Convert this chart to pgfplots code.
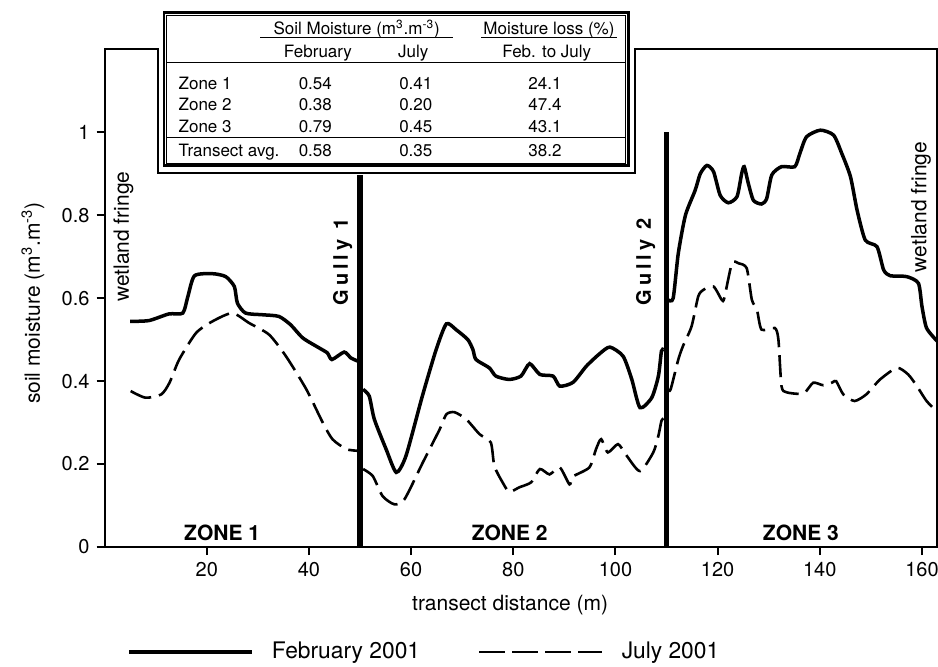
\documentclass[border=0pt]{standalone}
\usepackage{fontspec}
\setmainfont{TeX Gyre Heros}
\usepackage{pgfplots}
\usepackage{pgfplotstable}
\pgfplotsset{compat=1.18}

\pgfplotstableread{
x y
5.0 0.544
8.7 0.546
12.6 0.562
15.3 0.564
16.3 0.604
17.6 0.654
21.1 0.659
23.7 0.652
25.4 0.628
26.0 0.588
27.6 0.564
30.9 0.560
34.1 0.556
36.4 0.536
38.8 0.504
42.0 0.480
43.6 0.468
44.5 0.452
46.9 0.470
48.2 0.456
49.6 0.448
}\febA
\pgfplotstableread{
x y
5.1 0.376
8.0 0.360
11.1 0.368
12.7 0.396
14.6 0.452
17.9 0.516
21.1 0.544
25.0 0.564
28.3 0.540
32.2 0.512
35.5 0.460
39.5 0.380
42.7 0.300
44.6 0.260
47.3 0.236
49.6 0.232
}\julA
\pgfplotstableread{
x y
50.6 0.380
51.8 0.364
52.8 0.308
55.1 0.236
57.1 0.180
59.0 0.220
62.2 0.364
64.9 0.476
66.9 0.538
68.8 0.524
71.1 0.500
72.1 0.476
72.7 0.452
75.3 0.432
76.6 0.412
79.2 0.404
81.5 0.412
83.2 0.442
85.2 0.416
87.8 0.412
89.1 0.388
91.7 0.397
94.3 0.436
96.9 0.466
98.9 0.482
101.5 0.460
103.2 0.404
104.8 0.336
107.1 0.360
108.4 0.412
109.0 0.472
109.4 0.476
}\febB
\pgfplotstableread{
x y
50.6 0.188
52.5 0.171
54.4 0.123
56.7 0.103
58.7 0.115
62.3 0.204
65.6 0.284
66.9 0.320
68.5 0.325
70.8 0.308
73.4 0.272
75.6 0.252
76.3 0.195
77.9 0.156
79.2 0.133
81.2 0.144
83.5 0.156
85.2 0.188
87.1 0.175
89.1 0.192
91.0 0.151
91.7 0.170
94.9 0.192
96.2 0.236
97.2 0.260
98.5 0.228
100.5 0.248
102.2 0.220
104.8 0.183
107.4 0.228
108.4 0.268
109.0 0.304
109.4 0.310
}\julB
\pgfplotstableread{
x y
110.3 0.596
111.3 0.600
112.3 0.708
113.7 0.800
115.6 0.860
116.6 0.900
117.9 0.920
119.2 0.905
120.5 0.848
122.1 0.830
123.8 0.845
124.7 0.900
125.2 0.917
126.0 0.877
127.0 0.836
128.6 0.827
129.6 0.840
130.6 0.897
132.5 0.917
135.1 0.917
136.1 0.949
137.4 0.989
140.1 1.005
142.7 0.993
144.3 0.949
146.0 0.893
147.3 0.812
148.9 0.740
151.2 0.724
152.5 0.668
153.8 0.654
157.0 0.652
159.3 0.636
160.0 0.580
160.9 0.528
163.0 0.496
}\febC
\pgfplotstableread{
x y
110.3 0.380
110.8 0.380
112.3 0.452
113.2 0.484
114.9 0.532
116.2 0.604
117.2 0.620
119.2 0.628
120.8 0.596
121.3 0.600
122.8 0.684
124.1 0.684
125.7 0.672
126.7 0.596
127.7 0.572
128.6 0.524
131.2 0.528
131.9 0.500
132.5 0.388
133.5 0.373
136.8 0.370
138.7 0.396
140.7 0.390
142.5 0.397
143.2 0.400
144.6 0.368
146.8 0.352
149.1 0.368
151.8 0.404
155.1 0.432
157.3 0.416
159.0 0.388
160.9 0.352
162.8 0.328
}\julC

\begin{document}
\begin{tikzpicture}
\useasboundingbox (-52.3pt,-59.5pt) rectangle (416.7pt,273.5pt);
\begin{axis}[
  at={(0pt,0pt)}, anchor=south west, scale only axis,
  width=416.35pt, height=248.85pt,
  xmin=0, xmax=163, ymin=0, ymax=1.2,
  xtick={20,40,60,80,100,120,140,160},
  ytick={0,0.2,0.4,0.6,0.8,1},
  xtick pos=left, ytick pos=left,
  tick align=outside, major tick length=4pt,
  axis line style={line width=1pt},
  every tick/.style={black, line width=1pt},
  /pgf/number format/assume math mode=true,
  tick label style={font=\fontsize{10}{12}\selectfont},
  label style={font=\fontsize{10.5}{12}\selectfont},
  xlabel={transect distance (m)},
  ylabel={soil moisture (m\textsuperscript{3}.m\textsuperscript{-3})},
  xlabel style={at={(axis description cs:0.487,-0.1165)}, anchor=center},
  ylabel style={at={(axis description cs:-0.086,0.49)}, anchor=center},
  legend columns=2,
  legend cell align=left,
  legend image code/.code={\draw[#1] (0pt,0pt) -- (61.5pt,0pt);},
  legend style={at={(axis description cs:0.0269,-0.211)}, anchor=west,
    draw=none, fill=none, inner sep=0pt,
    font=\fontsize{11.4}{13}\selectfont,
    nodes={font=\fontsize{11.4}{13}\selectfont, inner sep=0pt},
    /tikz/every odd column/.append style={column sep=9pt},
    /tikz/every even column/.append style={column sep=29pt}},
]
\addlegendimage{black, line width=1.75pt}
\addlegendentry{February 2001}
\addlegendimage{black, line width=1.3pt, dash pattern=on 13pt off 3.5pt}
\addlegendentry{July 2001}

\addplot[forget plot, black, line width=1.75pt, smooth, tension=0.4] table {\febA};
\addplot[forget plot, black, line width=1.75pt, smooth, tension=0.4] table {\febB};
\addplot[forget plot, black, line width=1.75pt, smooth, tension=0.4] table {\febC};
\addplot[forget plot, black, line width=1.3pt, dash pattern=on 11pt off 4pt, smooth, tension=0.4] table {\julA};
\addplot[forget plot, black, line width=1.3pt, dash pattern=on 11pt off 4pt, smooth, tension=0.4] table {\julB};
\addplot[forget plot, black, line width=1.3pt, dash pattern=on 11pt off 4pt, smooth, tension=0.4] table {\julC};

\addplot[forget plot, black, line width=2.7pt] coordinates {(50,0) (50,0.898)};
\addplot[forget plot, black, line width=2.7pt] coordinates {(110,0) (110,1.0)};

\node[font=\bfseries\fontsize{10.5}{12}\selectfont] at (axis cs:23.0,0.034) {ZONE 1};
\node[font=\bfseries\fontsize{10.5}{12}\selectfont] at (axis cs:79.3,0.034) {ZONE 2};
\node[font=\bfseries\fontsize{10.5}{12}\selectfont] at (axis cs:136.3,0.034) {ZONE 3};
\node[rotate=90, font=\bfseries\fontsize{10}{12}\selectfont\addfontfeature{LetterSpace=20}] at (axis cs:46.6,0.687) {Gully 1};
\node[rotate=90, font=\bfseries\fontsize{10}{12}\selectfont\addfontfeature{LetterSpace=20}] at (axis cs:105.9,0.687) {Gully 2};
\node[rotate=90, anchor=west, inner sep=0pt, font=\fontsize{10.5}{12}\selectfont] at (axis cs:3.7,0.59) {wetland fringe};
\node[rotate=90, anchor=west, inner sep=0pt, font=\fontsize{10.5}{12}\selectfont] at (axis cs:159.8,0.662) {wetland fringe};
\end{axis}

\begin{scope}[shift={(-52.3pt,273.5pt)}, x=0.5pt, y=-0.5pt]
\fill[white] (158.9,47) rectangle (634.4,172.6);
\draw[line width=1pt] (158.3,49.3) -- (158.3,173.3) -- (635,173.3) -- (635,49.3);
\draw[line width=1.3pt, fill=white] (164,12.7) rectangle (628.3,165.7);
\draw[line width=0.45pt] (166.6,15.3) rectangle (625.7,163.1);
\draw[line width=0.45pt] (166.6,62.7) -- (625.7,62.7);
\draw[line width=0.45pt] (166.6,137.3) -- (625.7,137.3);
\draw[line width=0.45pt] (260,37.5) -- (453,37.5);
\draw[line width=0.45pt] (481,37.5) -- (617,37.5);
\begin{scope}[every node/.style={inner sep=0pt, anchor=base, font=\fontsize{8.5}{10}\selectfont}]
\node at (356.7,34) {Soil Moisture (m\textsuperscript{3}.m\textsuperscript{-3})};
\node at (549,34) {Moisture loss (\%)};
\node at (318,57.3) {February};
\node at (413.3,57.3) {July};
\node at (546.7,57.3) {Feb. to July};
\node[anchor=base west] at (178.3,89.3) {Zone 1};
\node[anchor=base west] at (178.3,110.7) {Zone 2};
\node[anchor=base west] at (178.3,132) {Zone 3};
\node[anchor=base west] at (178.3,156) {Transect avg.};
\node at (315.3,89.3) {0.54};
\node at (315.3,110.7) {0.38};
\node at (315.3,132) {0.79};
\node at (315.3,156) {0.58};
\node at (415.8,89.3) {0.41};
\node at (415.8,110.7) {0.20};
\node at (415.8,132) {0.45};
\node at (415.8,156) {0.35};
\node at (545,89.3) {24.1};
\node at (545,110.7) {47.4};
\node at (545,132) {43.1};
\node at (545,156) {38.2};
\end{scope}
\end{scope}
\end{tikzpicture}
\end{document}
